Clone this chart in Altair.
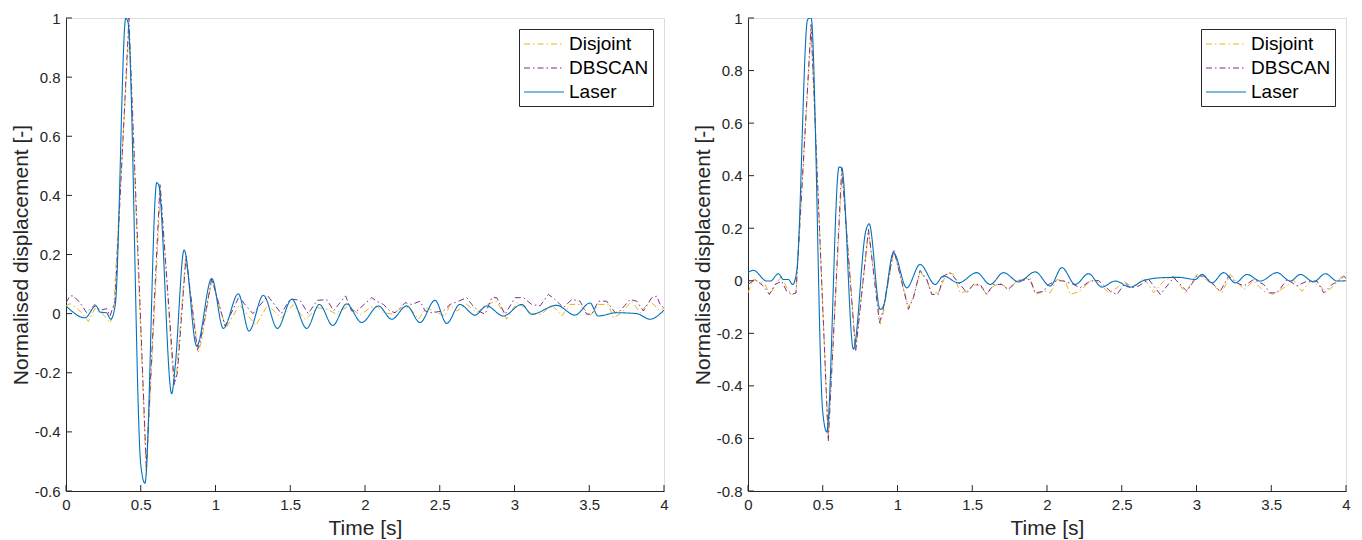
import altair as alt
import pandas as pd

SERIES = ["Disjoint", "DBSCAN", "Laser"]
COLORS = ["#EDB120", "#7E2F8E", "#0072BD"]
DASHES = [[6, 3, 1.5, 3], [6, 3, 1.5, 3], [1, 0]]

X_TICKS = [0, 0.5, 1, 1.5, 2, 2.5, 3, 3.5, 4]
Y_TICKS_L = [-0.6, -0.4, -0.2, 0, 0.2, 0.4, 0.6, 0.8, 1]
Y_TICKS_R = [-0.8, -0.6, -0.4, -0.2, 0, 0.2, 0.4, 0.6, 0.8, 1]

# ---------------- left panel ----------------
L_LASER_T = [0.0, 0.127, 0.2, 0.228, 0.27, 0.30, 0.33, 0.40, 0.415, 0.50, 0.528, 0.607, 0.62, 0.707, 0.73,
             0.79, 0.874, 0.975, 1.052, 1.153, 1.224, 1.32, 1.414, 1.51, 1.61, 1.695, 1.784, 1.877, 1.978,
             2.09, 2.178, 2.279, 2.368, 2.468, 2.546, 2.635, 2.736, 2.814, 2.925, 3.048, 3.115, 3.282,
             3.405, 3.505, 3.56, 3.683, 3.817, 3.906, 4.0]
L_LASER_V = [0.026, -0.014, 0.026, 0.005, 0.003, -0.019, 0.032, 1.0, 0.985, -0.51, -0.574, 0.443, 0.435, -0.271, -0.18,
             0.215, -0.11, 0.119, -0.05, 0.067, -0.059, 0.062, -0.05, 0.048, -0.05, 0.031, -0.04, 0.033, -0.03,
             0.026, -0.019, 0.026, -0.03, 0.045, -0.033, 0.031, -0.005, 0.026, -0.008, 0.031, -0.002, 0.028,
             -0.005, 0.036, -0.008, 0.003, 0.0, -0.019, 0.012]

L_DBS_T = [0.0, 0.027, 0.049, 0.094, 0.138, 0.194, 0.228, 0.272, 0.295, 0.328, 0.421, 0.537, 0.629, 0.725, 0.745,
           0.803, 0.879, 0.9, 0.975, 1.064, 1.16, 1.19, 1.25, 1.35, 1.44, 1.5, 1.565, 1.62, 1.68, 1.745, 1.79,
           1.87, 1.91, 1.945, 2.045, 2.078, 2.123, 2.168, 2.201, 2.268, 2.313, 2.368, 2.402, 2.446, 2.524,
           2.569, 2.625, 2.681, 2.714, 2.759, 2.803, 2.848, 2.881, 2.937, 3.004, 3.06, 3.115, 3.171, 3.227,
           3.271, 3.327, 3.383, 3.439, 3.483, 3.517, 3.561, 3.617, 3.673, 3.706, 3.773, 3.818, 3.862, 3.918,
           3.952, 3.974, 4.0]
L_DBS_V = [0.037, 0.06, 0.06, 0.037, 0.003, 0.031, 0.011, 0.017, -0.008, 0.043, 1.0, -0.52, 0.44, -0.24, -0.2,
           0.195, -0.124, -0.09, 0.119, -0.042, 0.06, 0.035, 0.0, 0.06, 0.0, 0.05, 0.045, 0.0, 0.045, 0.047, 0.01,
           0.06, 0.009, 0.009, 0.054, 0.042, 0.031, 0.009, 0.003, 0.037, 0.031, 0.042, 0.009, 0.003, 0.009,
           0.031, 0.042, 0.054, 0.031, 0.009, -0.002, 0.054, 0.054, -0.002, 0.054, 0.054, 0.031, 0.026, 0.065,
           0.048, 0.02, 0.048, 0.042, -0.002, -0.002, 0.042, 0.042, 0.003, 0.009, 0.048, 0.042, 0.009, 0.054,
           0.059, 0.031, 0.02]

L_DIS_T = [0.0, 0.027, 0.072, 0.105, 0.15, 0.194, 0.239, 0.295, 0.317, 0.421, 0.537, 0.632, 0.72, 0.74, 0.80,
           0.885, 0.905, 0.975, 1.07, 1.16, 1.27, 1.35, 1.44, 1.52, 1.6, 1.68, 1.75, 1.8, 1.89, 1.967, 2.034,
           2.078, 2.123, 2.19, 2.246, 2.301, 2.357, 2.413, 2.48, 2.536, 2.569, 2.614, 2.681, 2.747, 2.814,
           2.881, 2.948, 3.015, 3.071, 3.115, 3.182, 3.249, 3.316, 3.372, 3.439, 3.506, 3.561, 3.628, 3.662,
           3.717, 3.784, 3.84, 3.907, 3.974, 4.0]
L_DIS_V = [0.026, 0.034, 0.018, 0.003, -0.027, 0.018, 0.003, -0.031, -0.002, 0.96, -0.545, 0.42, -0.235, -0.2, 0.19,
           -0.13, -0.095, 0.115, -0.05, 0.03, -0.04, 0.03, -0.015, 0.03, -0.02, 0.02, 0.015, 0.0, 0.025, -0.005, 0.02,
           0.026, 0.003, -0.002, 0.02, 0.02, -0.019, 0.02, 0.003, -0.008, 0.031, 0.009, 0.031, 0.003, 0.031,
           0.042, -0.019, 0.037, 0.02, -0.002, -0.002, 0.031, -0.008, 0.031, 0.031, -0.008, 0.031, 0.031, -0.014,
           0.003, 0.042, 0.003, 0.042, 0.009, 0.02]

# ---------------- right panel ----------------
R_LASER_T = [0.0, 0.036, 0.125, 0.15, 0.203, 0.237, 0.27, 0.299, 0.326, 0.399, 0.422, 0.50, 0.527, 0.609, 0.627,
             0.705, 0.788, 0.81, 0.884, 0.906, 0.973, 1.062, 1.151, 1.252, 1.307, 1.408, 1.53, 1.62, 1.709, 1.81,
             1.921, 2.021, 2.1, 2.189, 2.278, 2.367, 2.456, 2.557, 2.646, 2.78, 2.88, 2.992, 3.037, 3.104, 3.182,
             3.26, 3.338, 3.427, 3.538, 3.628, 3.695, 3.784, 3.862, 3.94, 4.0]
R_LASER_V = [0.031, 0.04, -0.001, -0.001, 0.027, 0.005, 0.005, -0.014, 0.037, 0.995, 1.0, -0.50, -0.575, 0.433, 0.43,
             -0.26, 0.19, 0.217, -0.109, -0.096, 0.107, -0.027, 0.062, -0.014, 0.018, -0.008, 0.031, -0.014, 0.031, -0.004,
             0.034, -0.02, 0.05, -0.014, 0.027, -0.024, -0.001, -0.024, 0.001, 0.012, 0.013, 0.005, 0.024, -0.008, 0.031,
             -0.008, 0.024, -0.001, 0.031, -0.001, 0.024, -0.004, 0.027, -0.001, 0.0]

R_DBS_T = [0.0, 0.047, 0.103, 0.143, 0.181, 0.225, 0.259, 0.292, 0.321, 0.422, 0.537, 0.627, 0.72, 0.806, 0.879,
           0.9, 0.975, 1.073, 1.107, 1.151, 1.196, 1.229, 1.274, 1.307, 1.352, 1.419, 1.464, 1.508, 1.553, 1.597,
           1.642, 1.698, 1.742, 1.798, 1.887, 1.921, 1.977, 2.01, 2.066, 2.111, 2.178, 2.222, 2.289, 2.345, 2.423,
           2.468, 2.523, 2.557, 2.613, 2.68, 2.758, 2.847, 2.936, 3.003, 3.048, 3.104, 3.159, 3.215, 3.271, 3.316,
           3.383, 3.449, 3.494, 3.539, 3.606, 3.672, 3.739, 3.806, 3.851, 3.907, 3.951, 3.985, 4.0]
R_DBS_V = [-0.014, 0.005, -0.02, -0.052, -0.014, -0.001, -0.04, -0.052, -0.046, 0.975, -0.61, 0.43, -0.27, 0.196, -0.16,
           -0.12, 0.12, -0.109, -0.064, 0.04, 0.005, -0.052, -0.052, 0.018, 0.031, -0.014, -0.046, -0.014, -0.014, -0.052,
           -0.014, -0.014, -0.033, 0.001, 0.005, -0.046, -0.04, -0.014, 0.001, -0.001, -0.014, -0.027, -0.001, 0.001, -0.04,
           -0.052, -0.008, -0.027, -0.02, 0.005, -0.052, 0.012, -0.04, 0.018, 0.018, -0.008, -0.04, 0.018, -0.008, -0.02,
           0.005, -0.014, -0.046, -0.046, 0.005, -0.02, -0.001, -0.001, -0.046, -0.014, -0.001, 0.018, 0.01]

R_DIS_T = [0.0, 0.036, 0.114, 0.147, 0.192, 0.225, 0.259, 0.292, 0.321, 0.422, 0.537, 0.63, 0.72, 0.806, 0.885,
           0.905, 0.975, 1.073, 1.107, 1.151, 1.196, 1.229, 1.274, 1.33, 1.375, 1.419, 1.464, 1.508, 1.553, 1.597,
           1.642, 1.698, 1.742, 1.798, 1.888, 1.921, 1.988, 2.021, 2.066, 2.122, 2.155, 2.222, 2.289, 2.334, 2.412,
           2.468, 2.512, 2.579, 2.646, 2.713, 2.78, 2.847, 2.925, 3.003, 3.048, 3.104, 3.17, 3.226, 3.316, 3.383,
           3.449, 3.516, 3.583, 3.65, 3.706, 3.762, 3.829, 3.862, 3.918, 3.974, 4.0]
R_DIS_V = [-0.046, 0.005, -0.014, -0.052, -0.008, 0.018, -0.027, -0.052, -0.046, 0.96, -0.60, 0.42, -0.26, 0.19, -0.165,
           -0.12, 0.115, -0.1, -0.06, 0.035, 0.0, -0.046, -0.046, 0.031, 0.025, -0.046, -0.04, -0.014, -0.02, -0.052,
           -0.02, -0.008, -0.04, 0.0, 0.012, -0.052, -0.04, -0.046, 0.005, -0.001, -0.052, -0.04, -0.001, 0.001, -0.046,
           -0.027, -0.001, -0.027, 0.012, -0.046, -0.001, 0.018, -0.046, 0.024, 0.012, -0.014, -0.046, 0.024, -0.033, -0.001,
           -0.04, -0.052, -0.027, 0.001, -0.04, -0.001, -0.02, -0.046, -0.02, 0.018, 0.01]

FONT = "Liberation Sans"
AXIS_COLOR = "#262626"
W, H = 598, 473


def frame(pairs):
    rows = []
    for name, ts, vs in pairs:
        for t, v in zip(ts, vs):
            rows.append({"t": t, "v": v, "series": name})
    return pd.DataFrame(rows)


def panel(dis, dbs, las, y_domain, y_ticks):
    x_axis = alt.Axis(values=X_TICKS, title="Time [s]", ticks=False, tickSize=0, grid=False,
                      labelExpr="'' + datum.value", labelPadding=6, titlePadding=5,
                      domainColor=AXIS_COLOR, labelColor=AXIS_COLOR, titleColor=AXIS_COLOR,
                      labelFontSize=15, titleFontSize=21, labelFont=FONT, titleFont=FONT,
                      titleFontWeight="normal", labelFlush=False)
    y_axis = alt.Axis(values=y_ticks, title="Normalised displacement [-]", ticks=False, tickSize=0, grid=False,
                      labelExpr="'' + datum.value", labelPadding=6, titlePadding=3,
                      domainColor=AXIS_COLOR, labelColor=AXIS_COLOR, titleColor=AXIS_COLOR,
                      labelFontSize=15, titleFontSize=21, labelFont=FONT, titleFont=FONT,
                      titleFontWeight="normal", labelFlush=False)
    xs = alt.Scale(domain=[0, 4], nice=False, zero=False)
    ys = alt.Scale(domain=y_domain, nice=False, zero=False)

    legend = alt.Legend(title=None, orient="top-right", offset=11, strokeColor=AXIS_COLOR, fillColor="white",
                        padding=4, labelFontSize=19, labelFont=FONT, labelColor="#000000",
                        symbolType="M-1,0H3", symbolSize=400, symbolStrokeWidth=1.2, labelOffset=24,
                        rowPadding=3, cornerRadius=0)
    color = alt.Color("series:N", scale=alt.Scale(domain=SERIES, range=COLORS), legend=legend, sort=SERIES)
    dash = alt.StrokeDash("series:N", scale=alt.Scale(domain=SERIES, range=DASHES), legend=legend, sort=SERIES)

    df = frame([("Disjoint", *dis), ("DBSCAN", *dbs), ("Laser", *las)])

    est = alt.Chart(df).transform_filter(alt.datum.series != "Laser").mark_line(
        strokeWidth=1, clip=True).encode(
        x=alt.X("t:Q", scale=xs, axis=x_axis),
        y=alt.Y("v:Q", scale=ys, axis=y_axis),
        color=color, strokeDash=dash, detail="series:N",
        order=alt.Order("t:Q"))
    laser = alt.Chart(df).transform_filter(alt.datum.series == "Laser").mark_line(
        strokeWidth=1.1, interpolate="monotone", clip=True).encode(
        x=alt.X("t:Q", scale=xs, axis=x_axis),
        y=alt.Y("v:Q", scale=ys, axis=y_axis),
        color=color, strokeDash=dash,
        order=alt.Order("t:Q"))

    yt = alt.Chart(pd.DataFrame({"v": y_ticks})).mark_rule(color=AXIS_COLOR, strokeWidth=1).encode(
        y=alt.Y("v:Q", scale=ys, axis=y_axis), x=alt.value(0), x2=alt.value(6))
    xt = alt.Chart(pd.DataFrame({"t": X_TICKS})).mark_rule(color=AXIS_COLOR, strokeWidth=1).encode(
        x=alt.X("t:Q", scale=xs, axis=x_axis), y=alt.value(H), y2=alt.value(H - 6))

    return alt.layer(est, laser, yt, xt).properties(width=W, height=H)


left = panel((L_DIS_T, L_DIS_V), (L_DBS_T, L_DBS_V), (L_LASER_T, L_LASER_V), [-0.6, 1], Y_TICKS_L)
right = panel((R_DIS_T, R_DIS_V), (R_DBS_T, R_DBS_V), (R_LASER_T, R_LASER_V), [-0.8, 1], Y_TICKS_R)

chart = alt.hconcat(left, right, spacing=22).resolve_scale(
    color="independent", strokeDash="independent"
).properties(
    padding={"left": 1, "top": 2, "right": 0, "bottom": 0}
).configure_view(stroke=None).configure(background="white")

chart.save("out.html", embed_options={"renderer": "svg", "actions": False})
